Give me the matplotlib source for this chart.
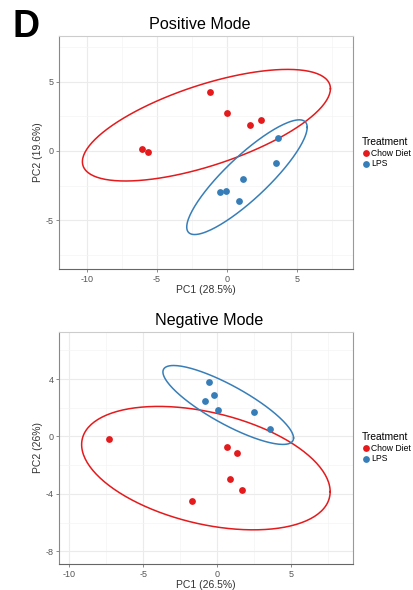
import numpy as np
import matplotlib.pyplot as plt

plt.rcParams['font.family'] = ['Liberation Sans', 'DejaVu Sans']
plt.rcParams['axes.unicode_minus'] = False

groups = ["Chow Diet", "LPS"]
colors = ["#E41A1C", "#377EB8"]

# Positive mode scores
pos_chow_pc1 = [-6.07, -5.62, -1.19, 0.00, 1.64, 2.43]
pos_chow_pc2 = [0.15, -0.10, 4.29, 2.76, 1.86, 2.25]
pos_lps_pc1 = [3.64, 3.48, 1.14, -0.50, -0.07, 0.88]
pos_lps_pc2 = [0.97, -0.87, -2.00, -2.95, -2.90, -3.63]

# Negative mode scores
neg_chow_pc1 = [-7.34, -1.73, 0.65, 1.33, 0.83, 1.64]
neg_chow_pc2 = [-0.21, -4.48, -0.72, -1.14, -2.97, -3.74]
neg_lps_pc1 = [-0.54, -0.20, -0.83, 0.02, 2.45, 3.54]
neg_lps_pc2 = [3.78, 2.88, 2.48, 1.83, 1.67, 0.51]

CHI2_95 = 5.991  # chi-square, 2 df, 95%


def ellipse_xy(x, y):
    pts = np.column_stack([x, y])
    mu = pts.mean(axis=0)
    cov = np.cov(pts, rowvar=False)
    L = np.linalg.cholesky(cov * CHI2_95)
    t = np.linspace(0, 2 * np.pi, 200)
    e = L @ np.vstack([np.cos(t), np.sin(t)])
    return mu[0] + e[0], mu[1] + e[1]


def draw_panel(ax, data, title, title_x, xlab, ylab, xlim, ylim, yticks, yminor):
    for (px, py), name, c in zip(data, groups, colors):
        ex, ey = ellipse_xy(px, py)
        ax.plot(ex, ey, color=c, lw=1.1, zorder=3)
        ax.scatter(px, py, s=24, color=c, label=name, zorder=4, linewidths=0)

    ax.set_xlim(*xlim)
    ax.set_ylim(*ylim)
    ax.set_xticks([-10, -5, 0, 5])
    ax.set_xticks([-7.5, -2.5, 2.5, 7.5], minor=True)
    ax.set_yticks(yticks)
    ax.set_yticks(yminor, minor=True)
    ax.grid(True, which='major', color='#ebebeb', lw=0.8, zorder=0)
    ax.grid(True, which='minor', color='#f4f4f4', lw=0.5, zorder=0)
    ax.set_axisbelow(True)
    ax.tick_params(which='major', length=2.5, width=0.6, colors='#777777',
                   labelsize=6.5, labelcolor='#555555', pad=1.5)
    ax.tick_params(which='minor', length=0)
    for s in ax.spines.values():
        s.set_color('#999999')
        s.set_linewidth(0.8)
    ax.spines['bottom'].set_color('#666666')
    ax.spines['left'].set_color('#888888')
    ax.spines['top'].set_color('#cccccc')

    ax.set_xlabel(xlab, fontsize=7.5, color='#333333', labelpad=1)
    ax.set_ylabel(ylab, fontsize=7.5, color='#333333', labelpad=1.5)
    ax.set_title(title, fontsize=11.6, pad=5, x=title_x)

    leg = ax.legend(title="Treatment", loc='center left',
                    bbox_to_anchor=(1.03, 0.5), frameon=False,
                    fontsize=6.2, title_fontsize=7.4, handletextpad=0.1,
                    borderpad=0, labelspacing=0.15, handlelength=1.0,
                    alignment='left', borderaxespad=0)
    for h in leg.legend_handles:
        h.set_sizes([24])


fig = plt.figure(figsize=(4.14, 5.90), dpi=100)
ax1 = fig.add_axes([0.1425, 0.544, 0.710, 0.395])
ax2 = fig.add_axes([0.1425, 0.0441, 0.710, 0.394])

draw_panel(ax1, [(pos_chow_pc1, pos_chow_pc2), (pos_lps_pc1, pos_lps_pc2)],
           "Positive Mode", 0.48, "PC1 (28.5%)", "PC2 (19.6%)",
           (-12.0, 9.0), (-8.55, 8.33), [-5, 0, 5], [-7.5, -2.5, 2.5, 7.5])
draw_panel(ax2, [(neg_chow_pc1, neg_chow_pc2), (neg_lps_pc1, neg_lps_pc2)],
           "Negative Mode", 0.51, "PC1 (26.5%)", "PC2 (26%)",
           (-10.7, 9.17), (-8.89, 7.31), [-8, -4, 0, 4], [-6, -2, 2, 6])

fig.text(0.03, 0.937, "D", fontsize=27, fontweight='bold', ha='left', va='baseline')

fig.savefig("out.png", dpi=100)
plt.close(fig)
